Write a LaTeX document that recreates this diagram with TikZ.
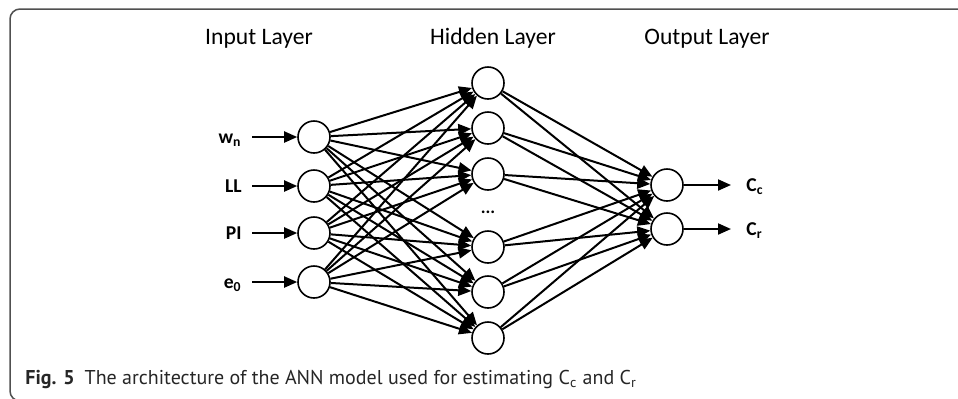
\documentclass[tikz,border=0pt]{standalone}
\usepackage{fontspec}
\setmainfont{Carlito}
\newfontfamily\capfont{PT Sans}
\usetikzlibrary{arrows.meta}
\definecolor{framegray}{HTML}{505050}
\tikzset{
  >={Triangle[length=6.5pt,width=5.5pt]},
  neuron/.style={draw, circle, line width=0.8pt, minimum size=16pt, inner sep=0pt},
  conn/.style={->, line width=1pt},
  layertitle/.style={anchor=base, inner sep=0pt, font=\fontsize{11.8}{14}\selectfont},
  inlabel/.style={anchor=east, inner xsep=5pt, inner ysep=0pt, text height=6pt, text depth=0pt,
    font=\bfseries\fontsize{9.8}{11}\selectfont},
  outlabel/.style={inlabel, anchor=west, inner xsep=7.5pt},
}
\begin{document}
\begin{tikzpicture}[x=0.5pt,y=-0.5pt]
\clip (0,0) rectangle (958,398);
\draw[framegray, line width=0.75pt, rounded corners=5pt] (10,9) rectangle (1000,401);
% layer titles
\node[layertitle] (tin) at (259,44) {Input Layer};
\node[layertitle] (thid) at (493,44) {Hidden Layer};
\node[layertitle] (tout) at (707,44) {Output Layer};
% input layer
\node[neuron] (in1) at (314,137) {};
\node[neuron] (in2) at (314,186) {};
\node[neuron] (in3) at (314,233) {};
\node[neuron] (in4) at (314,282) {};
% hidden layer
\node[neuron] (hid1) at (488,83) {};
\node[neuron] (hid2) at (488,128) {};
\node[neuron] (hid3) at (488,174) {};
\node (dots) at (488,212) {\fontsize{9}{10}\selectfont\bfseries...};
\node[neuron] (hid4) at (488,247) {};
\node[neuron] (hid5) at (488,292) {};
\node[neuron] (hid6) at (488,338) {};
% output layer
\node[neuron] (out1) at (667,185) {};
\node[neuron] (out2) at (667,229) {};
% inputs and outputs
\node[inlabel] (xw) at (252,137) {w\textsubscript{n}};
\node[inlabel] (xl) at (252,186) {LL};
\node[inlabel] (xp) at (252,233) {PI};
\node[inlabel] (xe) at (252,282) {e\textsubscript{0}};
\node[outlabel] (yc) at (731,185) {C\textsubscript{c}};
\node[outlabel] (yr) at (731,229) {C\textsubscript{r}};
\draw[conn] (xw) -- (in1);
\draw[conn] (xl) -- (in2);
\draw[conn] (xp) -- (in3);
\draw[conn] (xe) -- (in4);
\draw[conn] (out1) -- (yc);
\draw[conn] (out2) -- (yr);
% weights
\foreach \i in {1,...,4}
  \foreach \j in {1,...,6}
    \draw[conn] (in\i) -- (hid\j);
\foreach \j in {1,...,6}
  \foreach \k in {1,2}
    \draw[conn] (hid\j) -- (out\k);
% caption
\node[anchor=base west, inner sep=0pt, text=black!85, font=\capfont\fontsize{10}{12}\selectfont] (caption) at (25,384)
  {\textbf{Fig. 5}\enspace The architecture of the ANN model used for estimating C\textsubscript{c} and C\textsubscript{r}};
\end{tikzpicture}
\end{document}
